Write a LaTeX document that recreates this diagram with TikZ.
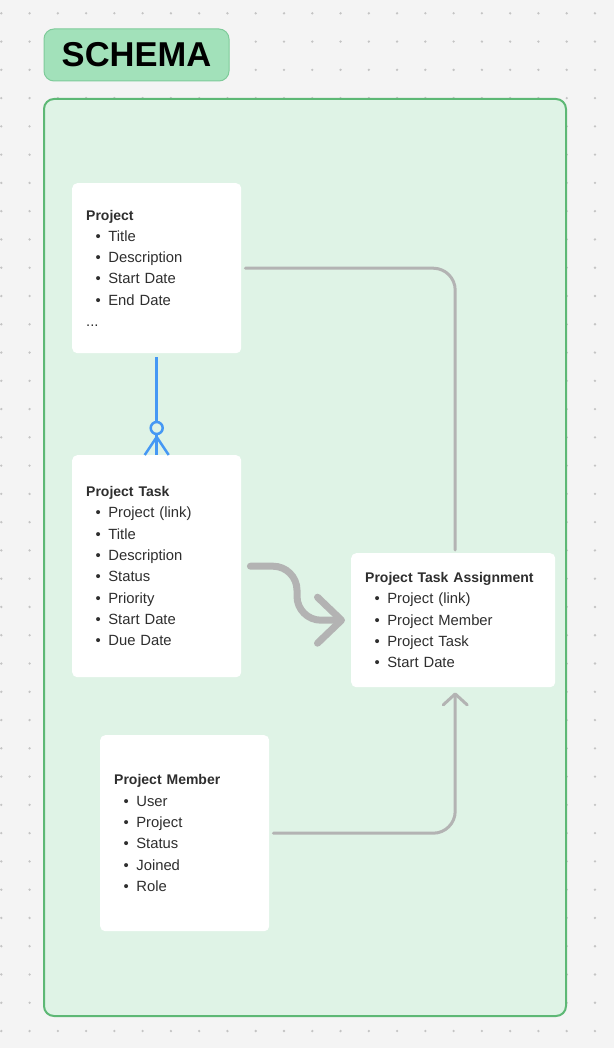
\documentclass[tikz,border=0pt]{standalone}
\usepackage{fontspec}
\setmainfont{Liberation Sans}
\usetikzlibrary{arrows.meta, positioning}
\definecolor{paper}{HTML}{F4F4F4}
\definecolor{dotgray}{HTML}{C4C4C4}
\definecolor{framegreen}{HTML}{5DB875}
\definecolor{framefill}{HTML}{DFF3E6}
\definecolor{badgefill}{HTML}{A2E1BA}
\definecolor{badgeline}{HTML}{7FCB9A}
\definecolor{linkgray}{HTML}{B3B3B3}
\definecolor{erblue}{HTML}{4598F4}
\definecolor{textgray}{HTML}{2E2E2E}
\tikzset{x=1pt, y=-1pt, % one unit is one pixel of the reference
card/.style={rectangle, fill=white, rounded corners=5pt, anchor=north west, align=left, inner xsep=14pt, inner ysep=0pt, text=textgray, font=\fontsize{14.8}{21.3}\selectfont}, % sets the look of each entity card
badge/.style={rectangle, draw=badgeline, line width=1pt, fill=badgefill, rounded corners=10pt, minimum width=185pt, minimum height=52pt, font=\fontsize{34.5}{36}\selectfont\bfseries}, % the title tag
link/.style={draw=linkgray, line width=3pt, line cap=round}, % thin gray connectors
bigarrow/.style={draw=linkgray, line width=7pt, line cap=round, -{Straight Barb[length=24pt,width=46pt,round]}}, % the thick curved arrow
erlink/.style={draw=erblue, line width=2.5pt}, % the crow's foot relation
}
\newcommand{\itm}[1]{\\\hspace*{9.5pt}\textbullet\hspace{7.5pt}#1}
\newcommand{\hd}[1]{{\fontsize{14}{21.3}\selectfont\bfseries #1}}

\begin{document}
\begin{tikzpicture}
    \useasboundingbox (0,0) rectangle (614,1048);
    \fill[paper] (0,0) rectangle (614,1048);
    \foreach \i in {0,...,21}
      \foreach \j in {0,...,37}
        \fill[dotgray] ({1.3+28.27*\i},{13.3+28.27*\j}) circle (1.3);

    \node[badge] (title) at (136.5,55) {SCHEMA};
    \draw[draw=framegreen, fill=framefill, line width=2pt, rounded corners=10pt] (44,99) rectangle (566,1016);

    \node[card, text width=141pt, minimum height=170pt] (project) at (72,183)
      {\hd{Project}\itm{Title}\itm{Description}\itm{Start Date}\itm{End Date}\\...};
    \node[card, text width=141pt, minimum height=222pt] (projecttask) at (72,455)
      {\hd{Project Task}\itm{Project (link)}\itm{Title}\itm{Description}\itm{Status}\itm{Priority}\itm{Start Date}\itm{Due Date}};
    \node[card, text width=141pt, minimum height=196pt] (member) at (100,735)
      {\hd{Project Member}\itm{User}\itm{Project}\itm{Status}\itm{Joined}\itm{Role}};
    \node[card, text width=176pt, minimum height=134pt] (assignment) at (351,553)
      {\hd{Project Task Assignment}\itm{Project (link)}\itm{Project Member}\itm{Project Task}\itm{Start Date}};

    % one project has many tasks
    \draw[erlink] ([yshift=-4pt]project.south) -- ([yshift=33pt]projecttask.north);
    \draw[erlink] ([yshift=27pt]projecttask.north) circle (6);
    \draw[erlink] ([yshift=21pt]projecttask.north) -- (projecttask.north);
    \draw[erlink] ([yshift=18pt]projecttask.north) -- ([xshift=-12pt]projecttask.north);
    \draw[erlink] ([yshift=18pt]projecttask.north) -- ([xshift=12pt]projecttask.north);

    \draw[link, rounded corners=22pt] ([xshift=4pt]project.east) -| ([xshift=2pt,yshift=3pt]assignment.north);
    \draw[link, rounded corners=22pt, -{Straight Barb[length=11pt,width=24pt,round]}] ([xshift=4pt]member.east) -| ([xshift=2pt,yshift=-5pt]assignment.south);
    \draw[bigarrow, rounded corners=24pt] ([xshift=9pt]projecttask.east) -| ([xshift=-54pt]assignment.west) -- ([xshift=-6pt]assignment.west);
\end{tikzpicture}
\end{document}
